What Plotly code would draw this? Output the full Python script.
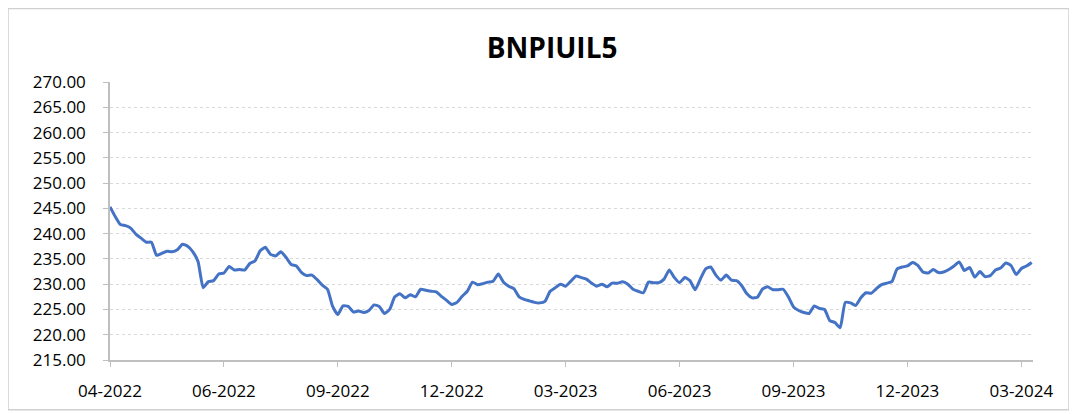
import pandas as pd
import plotly.graph_objects as go

series_name = "BNPIUIL5"
start_date = "2022-04-01"

# index level, one reading every 4 days
values = [
    245.3, 243.4, 241.8, 241.6, 241.1, 239.9, 239.1, 238.3, 238.3, 235.7,
    236.1, 236.5, 236.4, 236.8, 237.9, 237.5, 236.4, 234.5, 229.3, 230.5,
    230.7, 232.0, 232.2, 233.5, 232.8, 232.9,
    232.8, 234.1, 234.6, 236.6, 237.3, 235.9, 235.6, 236.4, 235.3, 233.9,
    233.6, 232.3, 231.7, 231.8, 230.9, 229.8, 229.0, 225.6, 224.0, 225.7,
    225.6, 224.5, 224.7, 224.4, 224.8,
    225.9, 225.6, 224.2, 225.0, 227.5, 228.1, 227.3, 227.9, 227.5, 229.0,
    228.8, 228.6, 228.5, 227.6, 226.8, 226.0, 226.4, 227.6, 228.6, 230.4,
    229.9, 230.1, 230.4, 230.6, 232.0,
    230.4, 229.6, 229.1, 227.5, 227.0, 226.7, 226.4, 226.3, 226.6, 228.6,
    229.3, 230.0, 229.6, 230.6, 231.6, 231.3, 231.0, 230.2, 229.6, 230.0,
    229.5, 230.2, 230.2, 230.5, 230.0,
    229.0, 228.6, 228.3, 230.4, 230.3, 230.3, 231.0, 232.8, 231.3, 230.3,
    231.3, 230.7, 228.9, 231.0, 233.0, 233.4, 231.8, 230.8, 231.8, 230.8,
    230.7, 229.7, 228.1, 227.3, 227.4,
    229.0, 229.5, 228.9, 228.9, 229.0, 227.5, 225.5, 224.8, 224.4, 224.2,
    225.7, 225.2, 225.0, 222.8, 222.4, 221.4, 226.4, 226.3, 225.8, 227.3,
    228.3, 228.2, 229.1, 229.9, 230.2,
    230.5, 233.0, 233.4, 233.6, 234.3, 233.7, 232.4, 232.2, 232.9, 232.3,
    232.4, 232.9, 233.6, 234.4, 232.7, 233.3, 231.4, 232.5, 231.5, 231.7,
    232.8, 233.2, 234.2, 233.7, 231.9, 233.1, 233.6, 234.3,
]
dates = pd.date_range(start_date, periods=len(values), freq="4D")

tick_dates = ["2022-04-01", "2022-06-28", "2022-09-24", "2022-12-21", "2023-03-19",
              "2023-06-15", "2023-09-11", "2023-12-08", "2024-03-05"]
tick_labels = ["04-2022", "06-2022", "09-2022", "12-2022", "03-2023",
               "06-2023", "09-2023", "12-2023", "03-2024"]

fig = go.Figure(go.Scatter(
    x=dates, y=values, mode="lines", name=series_name,
    line=dict(color="#4472C4", width=3, shape="spline", smoothing=0.5),
))

axis_grey = "#BFBFBF"
font_family = "Open Sans"

fig.update_layout(
    width=1069, height=406,
    margin=dict(l=102, r=44, t=74, b=52),
    paper_bgcolor="white", plot_bgcolor="white",
    showlegend=False,
    font=dict(family=font_family, color="#000000", size=17),
    title=dict(text="<b>BNPIUIL5</b>", x=0.509, xanchor="center", y=0.9, yanchor="middle",
               font=dict(family=font_family, size=28, color="#000000")),
    shapes=[dict(type="rect", xref="paper", yref="paper",
                 x0=-0.1105, x1=1.039, y0=-0.179, y1=1.264,
                 line=dict(color="#D0D0D0", width=1.5), fillcolor="rgba(0,0,0,0)",
                 layer="below")],
)

fig.update_xaxes(
    range=["2022-04-01", "2024-03-14"],
    tickmode="array", tickvals=tick_dates, ticktext=tick_labels,
    showgrid=False, showline=True, linecolor=axis_grey, linewidth=1.5,
    ticks="outside", ticklen=5, tickcolor=axis_grey, ticklabelstandoff=10,
    zeroline=False,
)
fig.update_yaxes(
    range=[215, 270], dtick=5, tick0=215, tickformat=".2f",
    showgrid=True, gridcolor="#D9D9D9", griddash="dot", gridwidth=1,
    showline=True, linecolor=axis_grey, linewidth=1.5,
    ticks="outside", ticklen=5, tickcolor=axis_grey, ticklabelstandoff=14,
    zeroline=False,
)

fig.write_html("out.html")
